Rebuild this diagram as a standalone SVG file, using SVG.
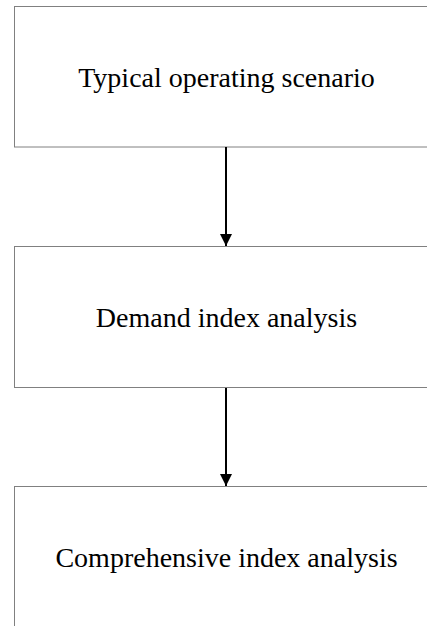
<svg xmlns="http://www.w3.org/2000/svg" width="427" height="626" viewBox="0 0 427 626">
  <style>
    .box { fill: #ffffff; stroke: #808080; stroke-width: 1; }
    .label { font-family: "Liberation Serif", "Times New Roman", serif; font-size: 28px; fill: #000000; text-anchor: middle; }
    .conn { stroke: #000000; stroke-width: 2; fill: none; }
  </style>
  <defs>
    <marker id="arrow" markerUnits="userSpaceOnUse" markerWidth="12" markerHeight="14" refX="12" refY="6" orient="auto">
      <path d="M0,0 L12,6 L0,12 Z" fill="#000000"/>
    </marker>
  </defs>
  <rect width="427" height="626" fill="#ffffff"/>

  <g id="node-scenario">
    <rect class="box" x="14.5" y="6.5" width="430" height="140.5"/>
    <text class="label" x="226.5" y="87">Typical operating scenario</text>
  </g>

  <g id="node-demand">
    <rect class="box" x="14.5" y="246.5" width="430" height="141"/>
    <text class="label" x="226.5" y="326.5">Demand index analysis</text>
  </g>

  <g id="node-comprehensive">
    <rect class="box" x="14.5" y="486.5" width="430" height="160"/>
    <text class="label" x="226.5" y="567">Comprehensive index analysis</text>
  </g>

  <g id="connectors">
    <line class="conn" x1="226" y1="147" x2="226" y2="246" marker-end="url(#arrow)"/>
    <line class="conn" x1="226" y1="388" x2="226" y2="486" marker-end="url(#arrow)"/>
  </g>
</svg>
